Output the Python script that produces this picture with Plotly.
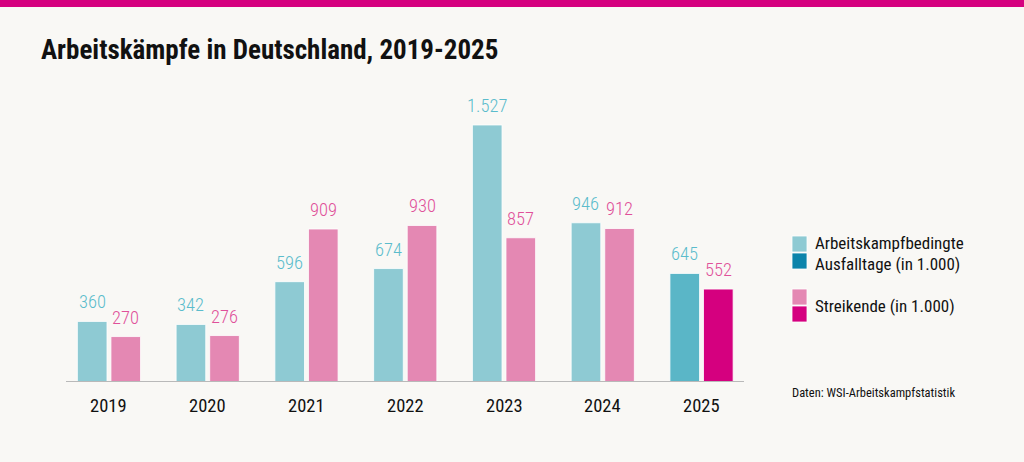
import plotly.graph_objects as go

years = ["2019", "2020", "2021", "2022", "2023", "2024", "2025"]
ausfalltage = [360, 342, 596, 674, 1527, 946, 645]
streikende = [270, 276, 909, 930, 857, 912, 552]
ausfall_labels = ["360", "342", "596", "674", "1.527", "946", "645"]
streik_labels = ["270", "276", "909", "930", "857", "912", "552"]

TEAL = "#8ecad3"
TEAL_25 = "#5ab6c7"
TEAL_DARK = "#0b84ab"
PINK = "#e488b3"
MAGENTA = "#d5007f"
TEAL_TXT = "#5bbccc"
PINK_TXT = "#e0509a"
BG = "#f9f8f5"
FONT = "Roboto Condensed, Open Sans Condensed, DejaVu Sans Condensed, sans-serif"

W, H = 1024, 462
pl, pr, pt, pb = 66, 280, 60, 80
pw, ph = W - pl - pr, H - pt - pb


def px_x(v):
    return (v - pl) / pw


def px_y(v):
    return 1 - (v - pt) / ph


x = list(range(len(years)))
teal_colors = [TEAL] * (len(years) - 1) + [TEAL_25]
pink_colors = [PINK] * (len(years) - 1) + [MAGENTA]

fig = go.Figure()
fig.add_trace(go.Bar(x=x, y=ausfalltage, width=0.30, offset=-0.32,
                     marker=dict(color=teal_colors, line=dict(color="#ffffff", width=0.8)),
                     hoverinfo="skip", showlegend=False))
fig.add_trace(go.Bar(x=x, y=streikende, width=0.30, offset=0.02,
                     marker=dict(color=pink_colors, line=dict(color="#ffffff", width=0.8)),
                     hoverinfo="skip", showlegend=False))

annotations = []
for i in x:
    annotations.append(dict(x=i - 0.17, y=ausfalltage[i], xref="x", yref="y", text=ausfall_labels[i],
                            showarrow=False, yanchor="bottom", yshift=6,
                            font=dict(family=FONT, size=18.5, weight=300, color=TEAL_TXT)))
    annotations.append(dict(x=i + 0.17, y=streikende[i], xref="x", yref="y", text=streik_labels[i],
                            showarrow=False, yanchor="bottom", yshift=6,
                            font=dict(family=FONT, size=18.5, weight=300, color=PINK_TXT)))
    annotations.append(dict(x=i, y=px_y(406), xref="x", yref="paper", text=years[i],
                            showarrow=False, yanchor="middle",
                            font=dict(family=FONT, size=18.5, color="#111111")))

annotations.append(dict(x=px_x(39), y=px_y(50), xref="paper", yref="paper", xanchor="left", yanchor="middle",
                        text="<b>Arbeitskämpfe in Deutschland, 2019-2025</b>", showarrow=False,
                        font=dict(family=FONT, size=27, color="#111111")))
leg_text_font = dict(family=FONT, size=17, color="#111111")
annotations.append(dict(x=px_x(813), y=px_y(243), xref="paper", yref="paper", xanchor="left", yanchor="middle",
                        text="Arbeitskampfbedingte", showarrow=False, font=leg_text_font))
annotations.append(dict(x=px_x(813), y=px_y(264), xref="paper", yref="paper", xanchor="left", yanchor="middle",
                        text="Ausfalltage (in 1.000)", showarrow=False, font=leg_text_font))
annotations.append(dict(x=px_x(813), y=px_y(306), xref="paper", yref="paper", xanchor="left", yanchor="middle",
                        text="Streikende (in 1.000)", showarrow=False, font=leg_text_font))
annotations.append(dict(x=px_x(790), y=px_y(392), xref="paper", yref="paper", xanchor="left", yanchor="middle",
                        text="Daten: WSI-Arbeitskampfstatistik", showarrow=False,
                        font=dict(family=FONT, size=12.5, color="#111111")))

shapes = [
    dict(type="rect", xref="paper", yref="paper", x0=px_x(0), x1=px_x(W), y0=px_y(7), y1=px_y(0),
         fillcolor=MAGENTA, line=dict(width=0), layer="above"),
    dict(type="line", xref="paper", yref="y", x0=0, x1=1, y0=0, y1=0,
         line=dict(color="#b9b9b9", width=2)),
]
for (y0, y1, c) in [(236, 252, TEAL), (253, 269, TEAL_DARK), (289, 305, PINK), (306, 322, MAGENTA)]:
    shapes.append(dict(type="rect", xref="paper", yref="paper", x0=px_x(792), x1=px_x(807),
                       y0=px_y(y1), y1=px_y(y0), fillcolor=c, line=dict(color="#ffffff", width=0.8)))

fig.update_layout(
    width=W, height=H,
    margin=dict(l=pl, r=pr, t=pt, b=pb),
    paper_bgcolor=BG, plot_bgcolor=BG,
    barmode="overlay",
    xaxis=dict(range=[-0.435, 6.43], showticklabels=False, showgrid=False, zeroline=False,
               showline=False, ticks="", fixedrange=True),
    yaxis=dict(range=[0, 1913], visible=False, fixedrange=True),
    annotations=annotations,
    shapes=shapes,
)
fig.write_html("out.html")
